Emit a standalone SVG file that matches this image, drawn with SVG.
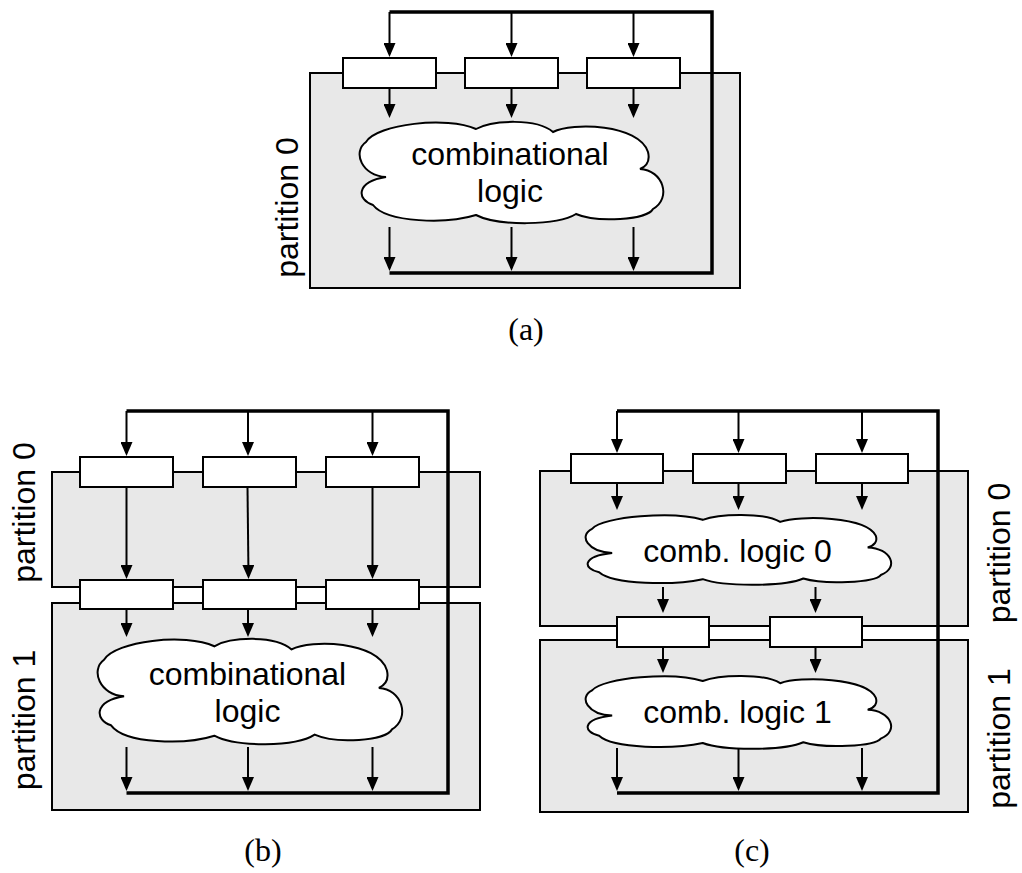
<svg xmlns="http://www.w3.org/2000/svg" xmlns:xlink="http://www.w3.org/1999/xlink" width="1022" height="873" viewBox="0 0 1022 873">
  <style>
    .part { fill: #e8e8e8; stroke: #000; stroke-width: 2; }
    .reg { fill: #fff; stroke: #000; stroke-width: 2; }
    .cloud { fill: #fff; stroke: #000; stroke-width: 2; }
    .lbl { font-family: "Liberation Sans", Arial, sans-serif; font-size: 32px; fill: #000; text-anchor: middle; }
    .cap { font-family: "Liberation Serif", "Times New Roman", serif; font-size: 32px; fill: #000; text-anchor: middle; }
    .bus { fill: none; stroke: #000; stroke-width: 3.5; }
    .arr { fill: none; stroke: #000; stroke-width: 2; marker-end: url(#ah); }
  </style>
  <defs>
    <marker id="ah" viewBox="0 0 14 12" markerWidth="14" markerHeight="12" refX="11" refY="6" orient="auto" markerUnits="userSpaceOnUse">
      <path d="M0,0 L14,6 L0,12 Z" fill="#000"/>
    </marker>
    <!-- cloud outline drawn in a 310 x 100 box -->
    <path id="cloudShape" class="cloud" vector-effect="non-scaling-stroke"
      d="M9,20 C20,2 90,-6 119,7 C135,-2 180,-4 196,10 C215,0 282,2 291,30 C293,38 290,44 283,47 C306,48 315,76 296,87 C290,98 240,101 219,92 C200,104 140,104 119,93 C90,102 30,101 16,83 C0,78 -2,60 29,55 C5,54 -5,30 9,20 Z"/>
  </defs>

  <!-- ===== (a) ===== -->
  <g id="a-partition0">
    <rect class="part" x="310" y="73" width="430" height="215"/>
    <text class="lbl" transform="translate(298,207.5) rotate(-90)">partition 0</text>
  </g>
  <g id="a-logic">
    <use xlink:href="#cloudShape" transform="translate(357,122)"/>
    <text class="lbl" x="510" y="165">combinational</text>
    <text class="lbl" x="510" y="202">logic</text>
  </g>
  <g id="a-reg0"><rect class="reg" x="343" y="58" width="93" height="30"/></g>
  <g id="a-reg1"><rect class="reg" x="465" y="58" width="93" height="30"/></g>
  <g id="a-reg2"><rect class="reg" x="587" y="58" width="93" height="30"/></g>
  <text class="cap" x="526" y="340">(a)</text>

  <!-- ===== (b) ===== -->
  <g id="b-partition0">
    <rect class="part" x="52" y="472" width="428" height="115"/>
    <text class="lbl" transform="translate(35,512.5) rotate(-90)">partition 0</text>
  </g>
  <g id="b-partition1">
    <rect class="part" x="52" y="603" width="428" height="207"/>
    <text class="lbl" transform="translate(35,720) rotate(-90)">partition 1</text>
  </g>
  <g id="b-logic">
    <use xlink:href="#cloudShape" transform="translate(95,639) scale(1.003,1.04)"/>
    <text class="lbl" x="247.5" y="685">combinational</text>
    <text class="lbl" x="247.5" y="722">logic</text>
  </g>
  <g id="b-reg0"><rect class="reg" x="80" y="457" width="93" height="30"/></g>
  <g id="b-reg1"><rect class="reg" x="203" y="457" width="93" height="30"/></g>
  <g id="b-reg2"><rect class="reg" x="326" y="457" width="93" height="30"/></g>
  <g id="b-reg3"><rect class="reg" x="80" y="580" width="93" height="29"/></g>
  <g id="b-reg4"><rect class="reg" x="203" y="580" width="93" height="29"/></g>
  <g id="b-reg5"><rect class="reg" x="326" y="580" width="93" height="29"/></g>
  <text class="cap" x="263" y="861">(b)</text>

  <!-- ===== (c) ===== -->
  <g id="c-partition0">
    <rect class="part" x="540" y="471" width="428" height="155"/>
    <text class="lbl" transform="translate(1010,553) rotate(-90)">partition 0</text>
  </g>
  <g id="c-partition1">
    <rect class="part" x="540" y="640" width="428" height="172"/>
    <text class="lbl" transform="translate(1010,738.5) rotate(-90)">partition 1</text>
  </g>
  <g id="c-logic0">
    <use xlink:href="#cloudShape" transform="translate(583,515) scale(1.006,0.69)"/>
    <text class="lbl" x="737.5" y="562">comb. logic 0</text>
  </g>
  <g id="c-logic1">
    <use xlink:href="#cloudShape" transform="translate(583,676) scale(1.006,0.72)"/>
    <text class="lbl" x="737.5" y="723">comb. logic 1</text>
  </g>
  <g id="c-reg0"><rect class="reg" x="571" y="454" width="92" height="29"/></g>
  <g id="c-reg1"><rect class="reg" x="693" y="454" width="93" height="29"/></g>
  <g id="c-reg2"><rect class="reg" x="816" y="454" width="92" height="29"/></g>
  <g id="c-reg3"><rect class="reg" x="617" y="617" width="92" height="30"/></g>
  <g id="c-reg4"><rect class="reg" x="770" y="617" width="92" height="30"/></g>
  <text class="cap" x="752" y="861">(c)</text>

  <!-- ===== connectors ===== -->
  <g id="connectors">
    <!-- (a) feedback bus and signal arrows -->
    <path class="bus" d="M389.5,12 H712 V273 H389.5"/>
    <line class="arr" x1="389.5" y1="12" x2="389.5" y2="54"/>
    <line class="arr" x1="511.5" y1="12" x2="511.5" y2="54"/>
    <line class="arr" x1="633.5" y1="12" x2="633.5" y2="54"/>
    <line class="arr" x1="389.5" y1="88" x2="389.5" y2="115"/>
    <line class="arr" x1="511.5" y1="88" x2="511.5" y2="115"/>
    <line class="arr" x1="633.5" y1="88" x2="633.5" y2="115"/>
    <line class="arr" x1="389.5" y1="227" x2="389.5" y2="268"/>
    <line class="arr" x1="511.5" y1="227" x2="511.5" y2="268"/>
    <line class="arr" x1="633.5" y1="227" x2="633.5" y2="268"/>

    <!-- (b) -->
    <path class="bus" d="M126.5,411 H448 V793 H126.5"/>
    <line class="arr" x1="126.5" y1="411" x2="126.5" y2="453"/>
    <line class="arr" x1="248" y1="411" x2="248" y2="453"/>
    <line class="arr" x1="372.5" y1="411" x2="372.5" y2="453"/>
    <line class="arr" x1="126.5" y1="487" x2="126.5" y2="576"/>
    <line class="arr" x1="247.5" y1="487" x2="248.5" y2="576"/>
    <line class="arr" x1="372.5" y1="487" x2="372.5" y2="576"/>
    <line class="arr" x1="126.5" y1="609" x2="126.5" y2="634"/>
    <line class="arr" x1="248" y1="609" x2="248" y2="634"/>
    <line class="arr" x1="372.5" y1="609" x2="372.5" y2="634"/>
    <line class="arr" x1="126.5" y1="747" x2="126.5" y2="788"/>
    <line class="arr" x1="248" y1="747" x2="248" y2="788"/>
    <line class="arr" x1="372.5" y1="747" x2="372.5" y2="788"/>

    <!-- (c) -->
    <path class="bus" d="M617,411 H938 V793 H617"/>
    <line class="arr" x1="617" y1="411" x2="617" y2="450"/>
    <line class="arr" x1="738.5" y1="411" x2="738.5" y2="450"/>
    <line class="arr" x1="862" y1="411" x2="862" y2="450"/>
    <line class="arr" x1="617" y1="483" x2="617" y2="507"/>
    <line class="arr" x1="738.5" y1="483" x2="738.5" y2="507"/>
    <line class="arr" x1="862" y1="483" x2="862" y2="507"/>
    <line class="arr" x1="663" y1="587" x2="663" y2="610"/>
    <line class="arr" x1="815.5" y1="587" x2="815.5" y2="610"/>
    <line class="arr" x1="663" y1="647" x2="663" y2="670"/>
    <line class="arr" x1="815.5" y1="647" x2="815.5" y2="670"/>
    <line class="arr" x1="617" y1="748" x2="617" y2="788"/>
    <line class="arr" x1="738.5" y1="748" x2="738.5" y2="788"/>
    <line class="arr" x1="862" y1="748" x2="862" y2="788"/>
  </g>
</svg>
